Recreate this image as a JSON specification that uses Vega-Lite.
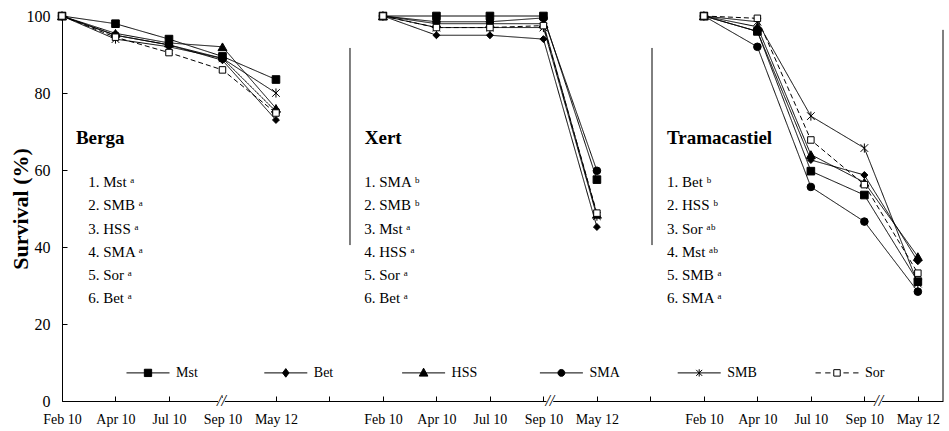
{
  "$schema": "https://vega.github.io/schema/vega-lite/v6.json",
  "width": 881,
  "height": 385,
  "autosize": {"type": "none"},
  "padding": {"left": 62, "top": 16, "right": 6, "bottom": 30},
  "background": "white",
  "config": {
    "view": {"stroke": null},
    "font": "Liberation Serif",
    "axis": {"grid": false, "domainColor": "black", "tickColor": "black", "labelColor": "black", "titleColor": "black", "labelFont": "Liberation Serif", "titleFont": "Liberation Serif"}
  },
  "datasets": {
    "surv": [
      {"site": "Berga", "trt": "Mst", "date": "Feb 10", "surv": 100}, {"site": "Berga", "trt": "Mst", "date": "Apr 10", "surv": 98}, {"site": "Berga", "trt": "Mst", "date": "Jul 10", "surv": 94}, {"site": "Berga", "trt": "Mst", "date": "Sep 10", "surv": 89.5}, {"site": "Berga", "trt": "Mst", "date": "May 12", "surv": 83.5},
      {"site": "Berga", "trt": "Bet", "date": "Feb 10", "surv": 100}, {"site": "Berga", "trt": "Bet", "date": "Apr 10", "surv": 95}, {"site": "Berga", "trt": "Bet", "date": "Jul 10", "surv": 92.5}, {"site": "Berga", "trt": "Bet", "date": "Sep 10", "surv": 88.5}, {"site": "Berga", "trt": "Bet", "date": "May 12", "surv": 73},
      {"site": "Berga", "trt": "HSS", "date": "Feb 10", "surv": 100}, {"site": "Berga", "trt": "HSS", "date": "Apr 10", "surv": 95.5}, {"site": "Berga", "trt": "HSS", "date": "Jul 10", "surv": 93}, {"site": "Berga", "trt": "HSS", "date": "Sep 10", "surv": 92}, {"site": "Berga", "trt": "HSS", "date": "May 12", "surv": 76},
      {"site": "Berga", "trt": "SMA", "date": "Feb 10", "surv": 100}, {"site": "Berga", "trt": "SMA", "date": "Apr 10", "surv": 95}, {"site": "Berga", "trt": "SMA", "date": "Jul 10", "surv": 92.5}, {"site": "Berga", "trt": "SMA", "date": "Sep 10", "surv": 89}, {"site": "Berga", "trt": "SMA", "date": "May 12", "surv": 75.2},
      {"site": "Berga", "trt": "SMB", "date": "Feb 10", "surv": 100}, {"site": "Berga", "trt": "SMB", "date": "Apr 10", "surv": 94}, {"site": "Berga", "trt": "SMB", "date": "Jul 10", "surv": 92}, {"site": "Berga", "trt": "SMB", "date": "Sep 10", "surv": 89}, {"site": "Berga", "trt": "SMB", "date": "May 12", "surv": 80},
      {"site": "Berga", "trt": "Sor", "date": "Feb 10", "surv": 100}, {"site": "Berga", "trt": "Sor", "date": "Apr 10", "surv": 94.5}, {"site": "Berga", "trt": "Sor", "date": "Jul 10", "surv": 90.5}, {"site": "Berga", "trt": "Sor", "date": "Sep 10", "surv": 86}, {"site": "Berga", "trt": "Sor", "date": "May 12", "surv": 74.8},
      {"site": "Xert", "trt": "Mst", "date": "Feb 10", "surv": 100}, {"site": "Xert", "trt": "Mst", "date": "Apr 10", "surv": 100}, {"site": "Xert", "trt": "Mst", "date": "Jul 10", "surv": 100}, {"site": "Xert", "trt": "Mst", "date": "Sep 10", "surv": 100}, {"site": "Xert", "trt": "Mst", "date": "May 12", "surv": 57.5},
      {"site": "Xert", "trt": "Bet", "date": "Feb 10", "surv": 100}, {"site": "Xert", "trt": "Bet", "date": "Apr 10", "surv": 95}, {"site": "Xert", "trt": "Bet", "date": "Jul 10", "surv": 95}, {"site": "Xert", "trt": "Bet", "date": "Sep 10", "surv": 94}, {"site": "Xert", "trt": "Bet", "date": "May 12", "surv": 45.2},
      {"site": "Xert", "trt": "HSS", "date": "Feb 10", "surv": 100}, {"site": "Xert", "trt": "HSS", "date": "Apr 10", "surv": 98}, {"site": "Xert", "trt": "HSS", "date": "Jul 10", "surv": 98}, {"site": "Xert", "trt": "HSS", "date": "Sep 10", "surv": 98}, {"site": "Xert", "trt": "HSS", "date": "May 12", "surv": 48.5},
      {"site": "Xert", "trt": "SMA", "date": "Feb 10", "surv": 100}, {"site": "Xert", "trt": "SMA", "date": "Apr 10", "surv": 98.5}, {"site": "Xert", "trt": "SMA", "date": "Jul 10", "surv": 98.5}, {"site": "Xert", "trt": "SMA", "date": "Sep 10", "surv": 99.5}, {"site": "Xert", "trt": "SMA", "date": "May 12", "surv": 59.8},
      {"site": "Xert", "trt": "SMB", "date": "Feb 10", "surv": 100}, {"site": "Xert", "trt": "SMB", "date": "Apr 10", "surv": 97}, {"site": "Xert", "trt": "SMB", "date": "Jul 10", "surv": 97}, {"site": "Xert", "trt": "SMB", "date": "Sep 10", "surv": 97}, {"site": "Xert", "trt": "SMB", "date": "May 12", "surv": 48},
      {"site": "Xert", "trt": "Sor", "date": "Feb 10", "surv": 100}, {"site": "Xert", "trt": "Sor", "date": "Apr 10", "surv": 97}, {"site": "Xert", "trt": "Sor", "date": "Jul 10", "surv": 97}, {"site": "Xert", "trt": "Sor", "date": "Sep 10", "surv": 97.5}, {"site": "Xert", "trt": "Sor", "date": "May 12", "surv": 48.8},
      {"site": "Tramacastiel", "trt": "Mst", "date": "Feb 10", "surv": 100}, {"site": "Tramacastiel", "trt": "Mst", "date": "Apr 10", "surv": 96}, {"site": "Tramacastiel", "trt": "Mst", "date": "Jul 10", "surv": 59.7}, {"site": "Tramacastiel", "trt": "Mst", "date": "Sep 10", "surv": 53.5}, {"site": "Tramacastiel", "trt": "Mst", "date": "May 12", "surv": 31},
      {"site": "Tramacastiel", "trt": "Bet", "date": "Feb 10", "surv": 100}, {"site": "Tramacastiel", "trt": "Bet", "date": "Apr 10", "surv": 96}, {"site": "Tramacastiel", "trt": "Bet", "date": "Jul 10", "surv": 62.6}, {"site": "Tramacastiel", "trt": "Bet", "date": "Sep 10", "surv": 58.7}, {"site": "Tramacastiel", "trt": "Bet", "date": "May 12", "surv": 36.3},
      {"site": "Tramacastiel", "trt": "HSS", "date": "Feb 10", "surv": 100}, {"site": "Tramacastiel", "trt": "HSS", "date": "Apr 10", "surv": 97.2}, {"site": "Tramacastiel", "trt": "HSS", "date": "Jul 10", "surv": 64}, {"site": "Tramacastiel", "trt": "HSS", "date": "Sep 10", "surv": 56.8}, {"site": "Tramacastiel", "trt": "HSS", "date": "May 12", "surv": 37.5},
      {"site": "Tramacastiel", "trt": "SMA", "date": "Feb 10", "surv": 100}, {"site": "Tramacastiel", "trt": "SMA", "date": "Apr 10", "surv": 92}, {"site": "Tramacastiel", "trt": "SMA", "date": "Jul 10", "surv": 55.6}, {"site": "Tramacastiel", "trt": "SMA", "date": "Sep 10", "surv": 46.6}, {"site": "Tramacastiel", "trt": "SMA", "date": "May 12", "surv": 28.4},
      {"site": "Tramacastiel", "trt": "SMB", "date": "Feb 10", "surv": 100}, {"site": "Tramacastiel", "trt": "SMB", "date": "Apr 10", "surv": 98.5}, {"site": "Tramacastiel", "trt": "SMB", "date": "Jul 10", "surv": 74}, {"site": "Tramacastiel", "trt": "SMB", "date": "Sep 10", "surv": 65.7}, {"site": "Tramacastiel", "trt": "SMB", "date": "May 12", "surv": 30.5},
      {"site": "Tramacastiel", "trt": "Sor", "date": "Feb 10", "surv": 100}, {"site": "Tramacastiel", "trt": "Sor", "date": "Apr 10", "surv": 99.4}, {"site": "Tramacastiel", "trt": "Sor", "date": "Jul 10", "surv": 67.8}, {"site": "Tramacastiel", "trt": "Sor", "date": "Sep 10", "surv": 56.2}, {"site": "Tramacastiel", "trt": "Sor", "date": "May 12", "surv": 33.2}
    ],
    "titles": [
      {"site": "Berga", "at": 0.26},
      {"site": "Xert", "at": 5.66},
      {"site": "Tramacastiel", "at": 11.31}
    ],
    "ranks": [
      {"site": "Berga", "at": 0.49, "lines": ["1. Mst ᵃ", "2. SMB ᵃ", "3. HSS ᵃ", "4. SMA ᵃ", "5. Sor ᵃ", "6. Bet ᵃ"]},
      {"site": "Xert", "at": 5.65, "lines": ["1. SMA ᵇ", "2. SMB ᵇ", "3. Mst ᵃ", "4. HSS ᵃ", "5. Sor ᵃ", "6. Bet ᵃ"]},
      {"site": "Tramacastiel", "at": 11.31, "lines": ["1. Bet ᵇ", "2. HSS ᵇ", "3. Sor ᵃᵇ", "4. Mst ᵃᵇ", "5. SMB ᵃ", "6. SMA ᵃ"]}
    ],
    "separators": [{"sx": 5.384}, {"sx": 11.03}],
    "breaks": [{"b": 2.98}, {"b": 9.12}, {"b": 15.27}],
    "legend": [{"trt": "Mst"}, {"trt": "Bet"}, {"trt": "HSS"}, {"trt": "SMA"}, {"trt": "SMB"}, {"trt": "Sor"}]
  },
  "resolve": {"scale": {"x": "independent", "shape": "independent"}},
  "layer": [
    {
      "layer": [
        {
          "data": {"name": "surv"},
          "transform": [{"calculate": "indexof(['Berga','Xert','Tramacastiel'], datum.site) * 6 + indexof(['Feb 10','Apr 10','Jul 10','Sep 10','May 12'], datum.date)", "as": "pos"}],
          "mark": {"type": "line", "color": "black", "strokeWidth": 1},
          "encoding": {
            "x": {"field": "pos", "type": "quantitative", "scale": {"domain": [0, 16.47], "nice": false, "zero": false},
              "axis": {"title": null, "values": [0,1,2,3,4,5,6,7,8,9,10,11,12,13,14,15,16], "labelExpr": "['Feb 10','Apr 10','Jul 10','Sep 10','May 12',''][datum.value % 6]", "tickSize": -5, "labelPadding": 16, "labelFontSize": 14, "labelAngle": 0, "labelOverlap": false, "labelFlush": false, "labelBound": false}},
            "y": {"field": "surv", "type": "quantitative", "scale": {"domain": [0, 100], "nice": false},
              "axis": {"title": "Survival (%)", "values": [0, 20, 40, 60, 80, 100], "tickSize": -5, "labelPadding": 17, "labelFontSize": 16, "titleFontSize": 22, "titleFontWeight": "bold", "titleX": -30, "titleBaseline": "bottom"}},
            "detail": {"field": "site"},
            "strokeDash": {"field": "trt", "type": "nominal", "scale": {"domain": ["Mst", "Bet", "HSS", "SMA", "SMB", "Sor"], "range": [[1, 0], [1, 0], [1, 0], [1, 0], [1, 0], [5, 3]]}, "legend": null}
          }
        },
        {
          "data": {"name": "surv"},
          "transform": [{"calculate": "indexof(['Berga','Xert','Tramacastiel'], datum.site) * 6 + indexof(['Feb 10','Apr 10','Jul 10','Sep 10','May 12'], datum.date)", "as": "pos"}],
          "mark": {"type": "point", "filled": true, "stroke": "black", "strokeWidth": 1, "opacity": 1},
          "encoding": {
            "x": {"field": "pos", "type": "quantitative"},
            "y": {"field": "surv", "type": "quantitative"},
            "fill": {"condition": {"test": "datum.trt == 'Sor'", "value": "white"}, "value": "black"},
            "size": {"condition": [{"test": "datum.trt == 'HSS'", "value": 80}, {"test": "datum.trt == 'Sor'", "value": 42}, {"test": "datum.trt == 'Bet'", "value": 48}], "value": 58},
            "shape": {"field": "trt", "type": "nominal",
              "scale": {"domain": ["Mst", "Bet", "HSS", "SMA", "SMB", "Sor"], "range": ["square", "diamond", "triangle-up", "circle", "M-1,-1L1,1M-1,1L1,-1M0,-1.2V1.2", "square"]},
              "legend": null}
          }
        },
        {
          "data": {"name": "separators"},
          "mark": {"type": "rule", "color": "black", "strokeWidth": 1},
          "encoding": {
            "x": {"field": "sx", "type": "quantitative"},
            "y": {"datum": 40.5, "type": "quantitative"},
            "y2": {"datum": 91.7}
          }
        },
        {
          "data": {"values": [{"edge": 16.47}]},
          "mark": {"type": "rule", "color": "black", "strokeWidth": 1},
          "encoding": {
            "x": {"field": "edge", "type": "quantitative"},
            "y": {"datum": 0, "type": "quantitative"},
            "y2": {"datum": 96.4}
          }
        },
        {
          "data": {"name": "breaks"},
          "mark": {"type": "point", "shape": "square", "filled": true, "color": "white", "opacity": 1, "size": 45},
          "encoding": {
            "x": {"field": "b", "type": "quantitative"},
            "y": {"datum": 0, "type": "quantitative"}
          }
        },
        {
          "data": {"name": "breaks"},
          "mark": {"type": "text", "text": "//", "font": "Liberation Serif", "fontSize": 16, "fontStyle": "italic", "color": "black", "align": "center", "baseline": "middle"},
          "encoding": {
            "x": {"field": "b", "type": "quantitative"},
            "y": {"datum": 0, "type": "quantitative"}
          }
        },
        {
          "data": {"name": "titles"},
          "mark": {"type": "text", "font": "Liberation Serif", "fontSize": 19, "fontWeight": "bold", "color": "black", "align": "left", "baseline": "alphabetic"},
          "encoding": {
            "x": {"field": "at", "type": "quantitative"},
            "y": {"datum": 66.8, "type": "quantitative"},
            "text": {"field": "site", "type": "nominal"}
          }
        },
        {
          "data": {"name": "ranks"},
          "mark": {"type": "text", "font": "Liberation Serif", "fontSize": 15, "color": "black", "align": "left", "baseline": "alphabetic", "lineHeight": 23.3},
          "encoding": {
            "x": {"field": "at", "type": "quantitative"},
            "y": {"datum": 55.6, "type": "quantitative"},
            "text": {"field": "lines", "type": "nominal"}
          }
        }
      ]
    },
    {
      "data": {"name": "legend"},
      "layer": [
        {
          "mark": {"type": "point", "filled": true, "stroke": "black", "strokeWidth": 1, "opacity": 1, "size": 1850},
          "encoding": {
            "x": {"field": "trt", "type": "nominal", "sort": null, "scale": {"type": "point", "padding": 0, "domain": ["Mst", "Bet", "HSS", "SMA", "SMB", "Sor"], "range": [86, 775]}, "axis": null},
            "y": {"datum": 7.3, "type": "quantitative"},
            "fill": {"condition": {"test": "datum.trt == 'Sor'", "value": "white"}, "value": "black"},
            "shape": {"field": "trt", "type": "nominal",
              "scale": {"domain": ["Mst", "Bet", "HSS", "SMA", "SMB", "Sor"], "range": [
                "M-1,0H1M-0.17,-0.17H0.17V0.17H-0.17Z",
                "M-1,0H1M0,-0.2L0.15,0L0,0.2L-0.15,0Z",
                "M-1,0H1M0,-0.22L0.2,0.15L-0.2,0.15Z",
                "M-1,0H1M-0.16,0A0.16,0.16 0 1,0 0.16,0A0.16,0.16 0 1,0 -0.16,0Z",
                "M-1,0H1M-0.14,-0.14L0.14,0.14M-0.14,0.14L0.14,-0.14M0,-0.17V0.17",
                "M-1,0H-0.75M-0.55,0H-0.3M0.3,0H0.55M0.75,0H1M-0.15,-0.15H0.15V0.15H-0.15Z"]},
              "legend": null}
          }
        },
        {
          "mark": {"type": "text", "font": "Liberation Serif", "fontSize": 14, "color": "black", "align": "left", "baseline": "middle", "dx": 28},
          "encoding": {
            "x": {"field": "trt", "type": "nominal", "sort": null, "scale": {"type": "point", "padding": 0, "domain": ["Mst", "Bet", "HSS", "SMA", "SMB", "Sor"], "range": [86, 775]}, "axis": null},
            "y": {"datum": 7.3, "type": "quantitative"},
            "text": {"field": "trt", "type": "nominal"}
          }
        }
      ]
    }
  ]
}
